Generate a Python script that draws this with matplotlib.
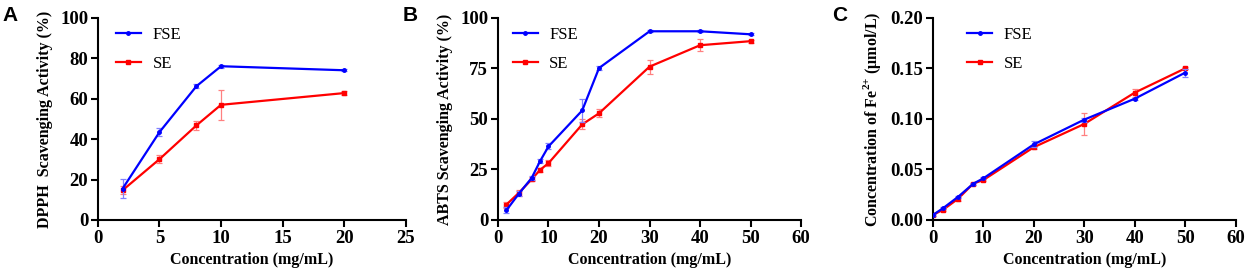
import numpy as np
import matplotlib
matplotlib.use('Agg')
import matplotlib.pyplot as plt
from matplotlib.lines import Line2D

plt.rcParams['font.family'] = 'Liberation Serif'
plt.rcParams['font.weight'] = 'bold'
plt.rcParams['mathtext.fontset'] = 'custom'
plt.rcParams['mathtext.rm'] = 'Liberation Serif:bold'
plt.rcParams['mathtext.bf'] = 'Liberation Serif:bold'

# Panel A - DPPH
dpph_x = [2, 5, 8, 10, 20]
dpph_fse = [15.5, 43.5, 66.2, 76.1, 74.1]
dpph_fse_err = [4.7, 2.0, 1.0, 0.8, 0.5]
dpph_se = [14.7, 30.1, 46.8, 57.0, 62.8]
dpph_se_err = [2.0, 2.0, 2.4, 7.5, 0.8]

# Panel B - ABTS
abts_x = [1.67, 4.17, 6.67, 8.33, 10, 16.67, 20, 30, 40, 50]
abts_fse = [4.8, 13.1, 20.8, 29.1, 36.4, 54.2, 75.2, 93.4, 93.4, 91.9]
abts_fse_err = [1.5, 1.0, 0.8, 1.0, 1.5, 5.8, 0.8, 0.5, 0.5, 0.5]
abts_se = [7.6, 13.5, 20.1, 24.8, 28.1, 47.3, 52.8, 75.9, 86.5, 88.5]
abts_se_err = [1.5, 1.5, 1.0, 1.0, 1.5, 2.5, 2.0, 3.5, 3.0, 0.8]

# Panel C - FRAP
frap_x = [0, 2, 5, 8, 10, 20, 30, 40, 50]
frap_fse = [0.005, 0.0116, 0.0229, 0.0359, 0.0412, 0.0748, 0.0993, 0.120, 0.1458]
frap_fse_err = [0.001, 0.001, 0.001, 0.001, 0.001, 0.003, 0.002, 0.001, 0.004]
frap_se = [0.005, 0.010, 0.021, 0.036, 0.0395, 0.072, 0.095, 0.126, 0.150]
frap_se_err = [0.001, 0.001, 0.002, 0.001, 0.001, 0.002, 0.011, 0.004, 0.001]

fig = plt.figure(figsize=(12.48, 2.76), dpi=100)

panels = [
    (0.0785, 0.2465, dpph_x, dpph_fse, dpph_fse_err, dpph_se, dpph_se_err,
     (0, 25), range(0, 30, 5), (0, 100), range(0, 120, 20),
     'DPPH  Scavenging Activity (%)', 'A', lambda v: '%d' % v, 0.008, 0.02),
    (0.399, 0.243, abts_x, abts_fse, abts_fse_err, abts_se, abts_se_err,
     (0, 60), range(0, 70, 10), (0, 100), range(0, 125, 25),
     'ABTS Scavenging Activity (%)', 'B', lambda v: '%d' % v, 0.329, 0.01),
    (0.7475, 0.2425, frap_x, frap_fse, frap_fse_err, frap_se, frap_se_err,
     (0, 60), range(0, 70, 10), (0, 0.2), np.arange(0, 0.21, 0.05),
     r'Concentration of Fe$^{2{+}}$ (μmol/L)', 'C', lambda v: '%.2f' % v, 0.673, 0.075),
]

for (left, width, x, fse, fse_err, se, se_err, xlim, xt, ylim, yt,
     ylabel, letter, fmt, letter_x, leg_x) in panels:
    ax = fig.add_axes([left, 0.203, width, 0.732])
    ax.errorbar(x, se, yerr=se_err, color='#ff0000', lw=1.6, marker='s', ms=3,
                ecolor='#ff8080', elinewidth=0.9, capsize=2, capthick=0.9,
                zorder=2)
    ax.errorbar(x, fse, yerr=fse_err, color='#0000ff', lw=1.6, marker='o', ms=2.5,
                ecolor='#8080ff', elinewidth=0.9, capsize=2, capthick=0.9,
                zorder=3)
    ax.set_xlim(*xlim)
    ax.set_ylim(*ylim)
    ax.set_xticks(list(xt))
    ax.set_yticks(list(yt))
    ax.set_yticklabels([fmt(v) for v in yt])
    for s in ['top', 'right']:
        ax.spines[s].set_visible(False)
    for s in ['left', 'bottom']:
        ax.spines[s].set_linewidth(1.5)
    ax.tick_params(width=1.5, length=5, labelsize=13.5, pad=2)
    for lab in ax.get_xticklabels() + ax.get_yticklabels():
        lab.set_fontweight('bold')
    ax.set_xlabel('Concentration (mg/mL)', fontsize=11.5, fontweight='bold', labelpad=4)
    ax.set_ylabel(ylabel, fontsize=11.5, fontweight='bold', labelpad=5)
    handles = [Line2D([], [], color='#0000ff', lw=1.6, marker='o', ms=2.5),
               Line2D([], [], color='#ff0000', lw=1.6, marker='s', ms=3)]
    ax.legend(handles, ['FSE', 'SE'], loc='upper left', bbox_to_anchor=(leg_x, 1.015),
              frameon=False, prop={'family': 'Liberation Serif', 'weight': 'normal', 'size': 12},
              handlelength=1.5, labelspacing=0.8, handletextpad=0.7, borderaxespad=0.3)
    fig.text(letter_x, 0.945, letter, fontsize=15, fontweight='bold',
             family='Liberation Sans', ha='center', va='center')

fig.savefig('out.png', dpi=100)
